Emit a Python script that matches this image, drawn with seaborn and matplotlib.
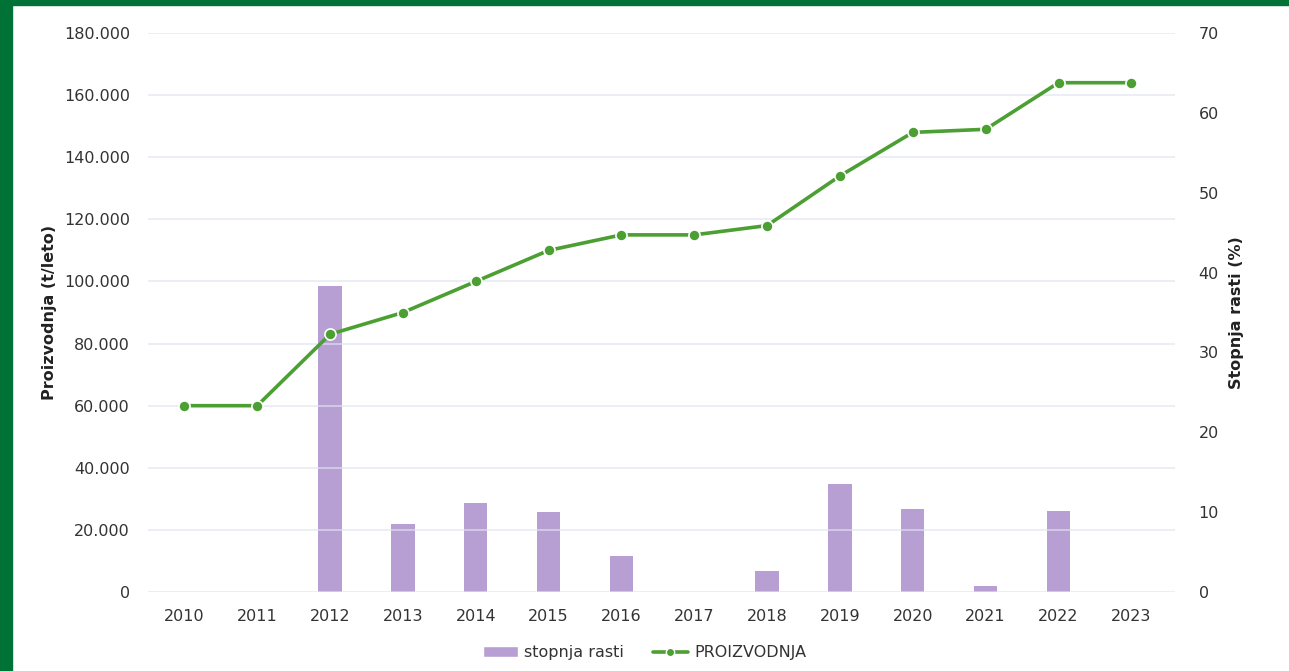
import numpy as np
import pandas as pd
import matplotlib
matplotlib.use("Agg")
import matplotlib.pyplot as plt
import matplotlib.ticker as mticker
from matplotlib.patches import Rectangle, Patch
from matplotlib.lines import Line2D
import seaborn as sns

# data
years = ["2010", "2011", "2012", "2013", "2014", "2015", "2016",
         "2017", "2018", "2019", "2020", "2021", "2022", "2023"]
proizvodnja = [60000, 60000, 83000, 90000, 100000, 110000, 115000,
               115000, 118000, 134000, 148000, 149000, 164000, 164000]
stopnja_rasti = [0, 0, 38.3, 8.5, 11.1, 10.0, 4.5,
                 0, 2.6, 13.5, 10.4, 0.8, 10.1, 0]

BAR_COLOR = "#b89fd3"
LINE_COLOR = "#4c9f32"
GRID_COLOR = "#dfe4ee"
TEXT_COLOR = "#333333"

sns.set_theme(style="white")
plt.rcParams["font.family"] = ["DejaVu Sans"]

df = pd.DataFrame({"leto": years, "proizvodnja": proizvodnja, "rast": stopnja_rasti})
df["pos"] = np.arange(len(years))

fig = plt.figure(figsize=(12.89, 6.71), dpi=100)
ax = fig.add_axes([0.1148, 0.1177, 0.7968, 0.8331])
ax2 = ax.twinx()

# bars (growth rate, right axis)
sns.barplot(data=df, x="leto", y="rast", ax=ax2, color=BAR_COLOR,
            width=0.32, saturation=1, linewidth=0, zorder=1)

# line (production, left axis)
sns.lineplot(data=df, x="pos", y="proizvodnja", ax=ax, color=LINE_COLOR,
             linewidth=2.6, marker="o", markersize=8,
             markeredgecolor="white", markeredgewidth=1.2, zorder=3)

ax.set_zorder(ax2.get_zorder() + 1)
ax.patch.set_visible(False)

ax.set_xlim(-0.5, 13.6)
ax.set_ylim(0, 180000)
ax2.set_ylim(0, 70)
ax.set_yticks(np.arange(0, 180001, 20000))
ax2.set_yticks(np.arange(0, 71, 10))
ax.set_xticks(df["pos"])
ax.set_xticklabels(years)
ax.yaxis.set_major_formatter(mticker.FuncFormatter(
    lambda v, p: "0" if v == 0 else f"{int(v):,}".replace(",", ".")))

ax.grid(axis="y", color=GRID_COLOR, linewidth=1.1, alpha=0.8)
ax.grid(axis="x", visible=False)
ax2.grid(False)
for a in (ax, ax2):
    for s in a.spines.values():
        s.set_visible(False)
    a.tick_params(length=0, labelsize=11.5, labelcolor=TEXT_COLOR)
ax.tick_params(axis="y", pad=13)
ax.tick_params(axis="x", pad=12)
ax2.tick_params(axis="y", pad=17)

ax.set_xlabel("")
ax2.set_xlabel("")
ax.set_ylabel("Proizvodnja (t/leto)", fontsize=11.5, fontweight="bold",
              color="#222222", labelpad=5)
ax2.set_ylabel("Stopnja rasti (%)", fontsize=11.5, fontweight="bold",
               color="#222222", labelpad=7)

handles = [
    Patch(facecolor=BAR_COLOR, label="stopnja rasti"),
    Line2D([0], [0], color=LINE_COLOR, linewidth=2.6, marker="o", markersize=6,
           markeredgecolor="white", markeredgewidth=1, label="PROIZVODNJA"),
]
fig.legend(handles=handles, loc="center", bbox_to_anchor=(0.5, 0.027), ncol=2,
           frameon=False, fontsize=11.5, handlelength=2.2, columnspacing=1.8,
           handletextpad=0.4, labelcolor=TEXT_COLOR)

# green frame on the left and top edge
fig.patches.append(Rectangle((0, 0), 12 / 1289, 1, transform=fig.transFigure,
                             color="#007236", zorder=10))
fig.patches.append(Rectangle((0, 1 - 5 / 671), 1, 5 / 671, transform=fig.transFigure,
                             color="#007236", zorder=10))

fig.savefig("out.png", dpi=100)
